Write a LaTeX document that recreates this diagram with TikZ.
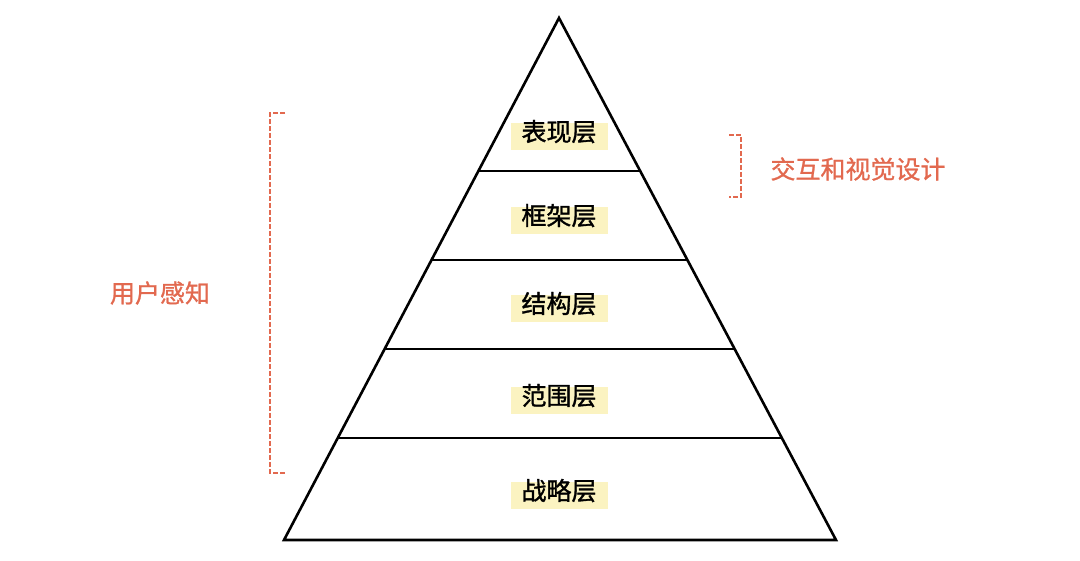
\documentclass[tikz,border=0pt]{standalone}
\usepackage{fontspec}
\newfontfamily\cjk[FakeBold=1.0]{Noto Sans CJK SC}
\newfontfamily\cjkdark[FakeBold=1.3]{Noto Sans CJK SC}
\usetikzlibrary{calc}
\definecolor{bracketorange}{HTML}{E2694F}
\definecolor{layerhl}{HTML}{FBF3C1}
\tikzset{
  layer/.style={anchor=base, fill=layerhl, inner xsep=11pt, inner ysep=0pt,
    text height=18pt, text depth=9pt, font=\cjkdark\fontsize{25}{25}\selectfont},
  sidelabel/.style={text=bracketorange, font=\cjk\fontsize{25}{25}\selectfont},
  bracketline/.style={draw=bracketorange, line width=2.2pt, dash pattern=on 5pt off 2pt}
}
\begin{document}
\begin{tikzpicture}[x=1pt, y=-1pt]
    \useasboundingbox (0,0) rectangle (1080,561);
    \coordinate (apex) at (559,18);
    \coordinate (baseL) at (284,540);
    \coordinate (baseR) at (836,540);

    % pyramid and its layers
    \draw[line width=2.6pt, line join=miter] (apex) -- (baseR) -- (baseL) -- cycle;
    \draw[line width=2.6pt] ($(apex)!0.2931!(baseL)$) -- ($(apex)!0.2931!(baseR)$);
    \draw[line width=2.6pt] ($(apex)!0.4636!(baseL)$) -- ($(apex)!0.4636!(baseR)$);
    \draw[line width=2.6pt] ($(apex)!0.6341!(baseL)$) -- ($(apex)!0.6341!(baseR)$);
    \draw[line width=2.6pt] ($(apex)!0.8046!(baseL)$) -- ($(apex)!0.8046!(baseR)$);

    \node[layer] (surface) at (559,141) {表现层};
    \node[layer] (skeleton) at (559,225) {框架层};
    \node[layer] (structure) at (559,313) {结构层};
    \node[layer] (scope) at (559,405) {范围层};
    \node[layer] (strategy) at (559,500) {战略层};

    % brackets
    \coordinate (percTop) at (285,113);
    \coordinate (percBot) at (285,473);
    \draw[bracketline] (percTop) -- (270,113) -- (270,473) -- (percBot);
    \node[sidelabel] (perception) at (160,293) {用户感知};

    \coordinate (visTop) at (729,135);
    \coordinate (visBot) at (729,197);
    \draw[bracketline] (visTop) -- (741,135) -- (741,197) -- (visBot);
    \node[sidelabel] (visual) at (858,169) {交互和视觉设计};
\end{tikzpicture}
\end{document}
